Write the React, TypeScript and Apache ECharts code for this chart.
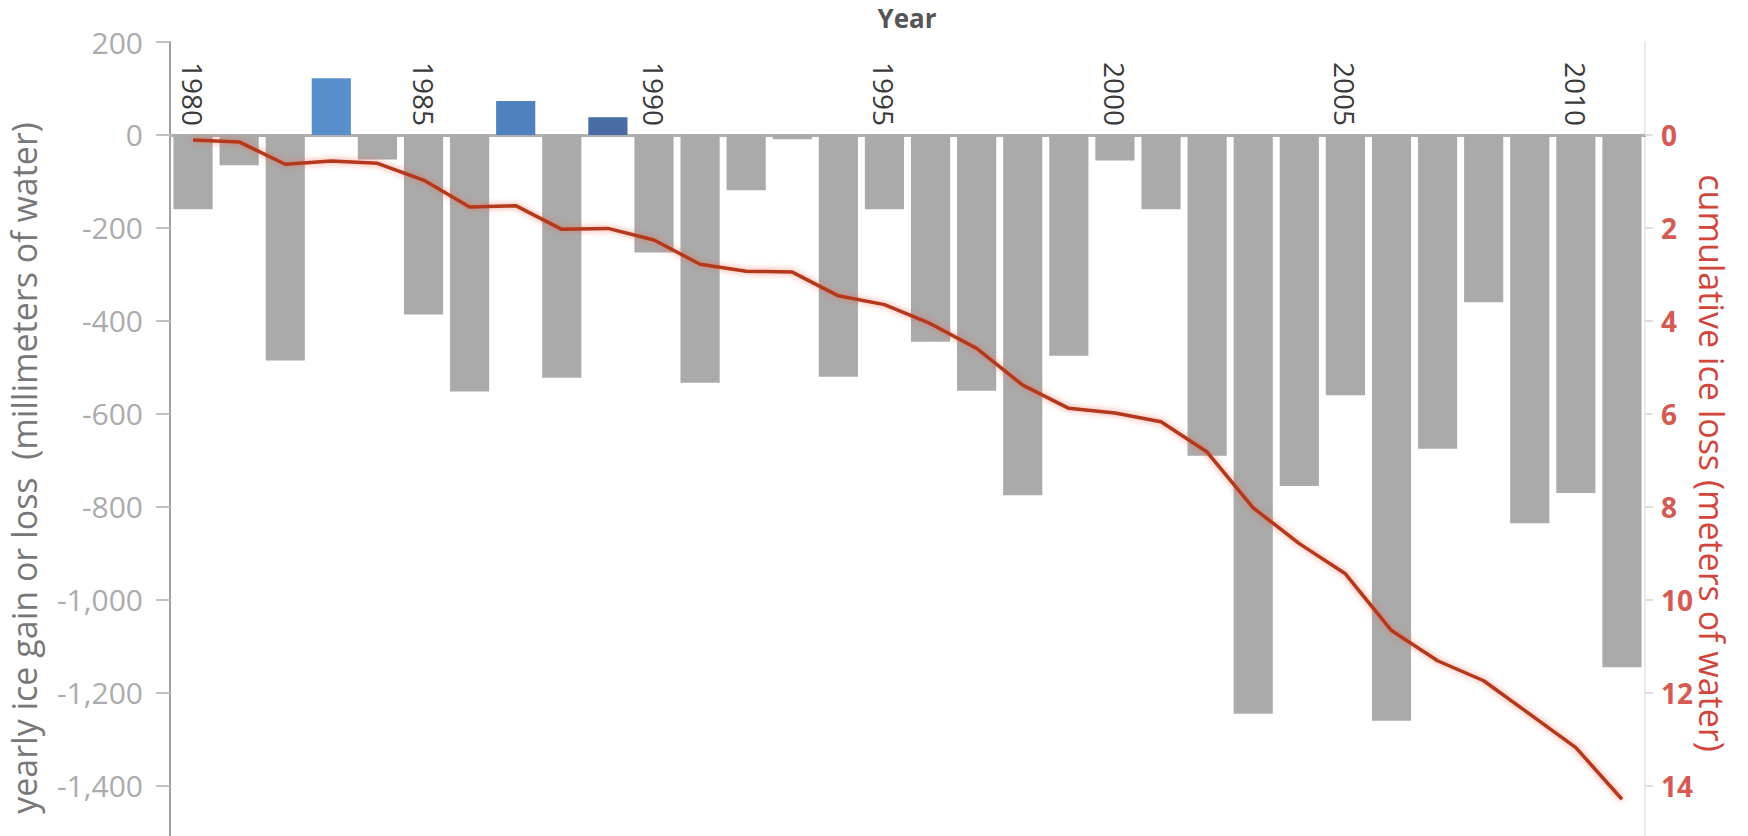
import React, { useEffect, useRef } from "react";
import * as echarts from "echarts";

const years: string[] = [
  "1980", "1981", "1982", "1983", "1984", "1985", "1986", "1987", "1988", "1989",
  "1990", "1991", "1992", "1993", "1994", "1995", "1996", "1997", "1998", "1999",
  "2000", "2001", "2002", "2003", "2004", "2005", "2006", "2007", "2008", "2009",
  "2010", "2011",
];

// yearly ice gain or loss (millimeters of water)
const yearlyChange: number[] = [
  -160, -65, -485, 122, -53, -386, -552, 73, -522, 38,
  -253, -533, -119, -9, -520, -160, -445, -550, -775, -475,
  -55, -160, -690, -1245, -755, -560, -1260, -675, -360, -835,
  -770, -1145,
];

// cumulative ice loss (meters of water)
const cumulativeLoss: number[] = [
  0.11, 0.15, 0.63, 0.56, 0.61, 0.97, 1.55, 1.52, 2.03, 2.01,
  2.26, 2.78, 2.93, 2.95, 3.46, 3.65, 4.06, 4.59, 5.38, 5.88,
  5.98, 6.17, 6.82, 8.02, 8.79, 9.44, 10.66, 11.31, 11.74, 12.46,
  13.18, 14.29,
];

const leftTicks: number[] = [200, 0, -200, -400, -600, -800, -1000, -1200, -1400];
const rightTicks: number[] = [0, 2, 4, 6, 8, 10, 12, 14];

const xTitle = "Year";
const leftTitle = "yearly ice gain or loss  (millimeters of water)";
const rightTitle = "cumulative ice loss (meters of water)";

const gainColors: Record<string, string> = {
  "1983": "#5a8fcd",
  "1987": "#4f80bf",
  "1989": "#4a6ca4",
};

const FONT = "'Open Sans', 'Noto Sans', sans-serif";

const GRID_TOP = 42;
const ZERO_Y = 135;

export default function App() {
  const ref = useRef<HTMLDivElement>(null);

  useEffect(() => {
    if (!ref.current) return;
    const chart = echarts.init(ref.current, undefined, { renderer: "svg" });

    const barData = yearlyChange.map((v, i) => ({
      value: v,
      itemStyle: { color: v > 0 ? gainColors[years[i]] || "#5a8fcd" : "#aaaaaa" },
    }));

    chart.setOption({
      animation: false,
      backgroundColor: "#ffffff",
      textStyle: { fontFamily: FONT },
      grid: { left: 170, right: 103, top: GRID_TOP, bottom: 0, containLabel: false },
      xAxis: {
        type: "category",
        data: years,
        position: "top",
        offset: -(ZERO_Y - GRID_TOP),
        boundaryGap: true,
        axisLine: { show: true, onZero: false, lineStyle: { color: "#b0b0b0", width: 3 } },
        axisTick: { show: false },
        axisLabel: {
          rotate: 90,
          interval: 4,
          color: "#3a3a3a",
          fontSize: 28,
          fontFamily: FONT,
          margin: 9,
        },
        splitLine: { show: false },
      },
      yAxis: [
        {
          type: "value",
          position: "left",
          min: -1508,
          max: 200,
          axisLine: { show: true, lineStyle: { color: "#a0a0a0", width: 2 } },
          axisTick: {
            show: true,
            length: 14,
            customValues: leftTicks,
            lineStyle: { color: "#c0c0c0", width: 2 },
          },
          axisLabel: {
            customValues: leftTicks,
            color: "#ababab",
            fontSize: 30,
            fontFamily: FONT,
            margin: 27,
            formatter: (v: number) => v.toLocaleString("en-US"),
          },
          splitLine: { show: false },
        },
        {
          type: "value",
          position: "right",
          inverse: true,
          min: -2,
          max: 15.08,
          axisLine: { show: true, lineStyle: { color: "#ebebeb", width: 2 } },
          axisTick: {
            show: true,
            length: 8,
            customValues: rightTicks,
            lineStyle: { color: "#dddddd", width: 2 },
          },
          axisLabel: {
            customValues: rightTicks,
            color: "#d45a52",
            fontSize: 28,
            fontWeight: "bold",
            fontFamily: FONT,
            margin: 16,
          },
          splitLine: { show: false },
        },
      ],
      series: [
        {
          type: "bar",
          data: barData,
          yAxisIndex: 0,
          barCategoryGap: "15%",
          z: 2,
        },
        {
          type: "line",
          data: cumulativeLoss,
          yAxisIndex: 1,
          symbol: "none",
          smooth: false,
          z: 5,
          lineStyle: {
            color: "#b3381e",
            width: 3.5,
            shadowColor: "rgba(240,100,70,0.7)",
            shadowBlur: 6,
          },
        },
      ],
      graphic: [
        {
          type: "text",
          x: 907,
          y: 18,
          style: {
            text: xTitle,
            font: `bold 26px ${FONT}`,
            fill: "#555555",
            textAlign: "center",
            textVerticalAlign: "middle",
          },
        },
        {
          type: "text",
          x: 24,
          y: 468,
          rotation: Math.PI / 2,
          style: {
            text: leftTitle,
            font: `34px ${FONT}`,
            fill: "#777777",
            textAlign: "center",
            textVerticalAlign: "middle",
          },
        },
        {
          type: "text",
          x: 1712,
          y: 463,
          rotation: -Math.PI / 2,
          style: {
            text: rightTitle,
            font: `34px ${FONT}`,
            fill: "#d0463c",
            textAlign: "center",
            textVerticalAlign: "middle",
          },
        },
      ],
    });

    return () => chart.dispose();
  }, []);

  return (
    <div
      ref={ref}
      style={{ position: "absolute", left: 0, top: 0, width: 1748, height: 836 }}
    />
  );
}
